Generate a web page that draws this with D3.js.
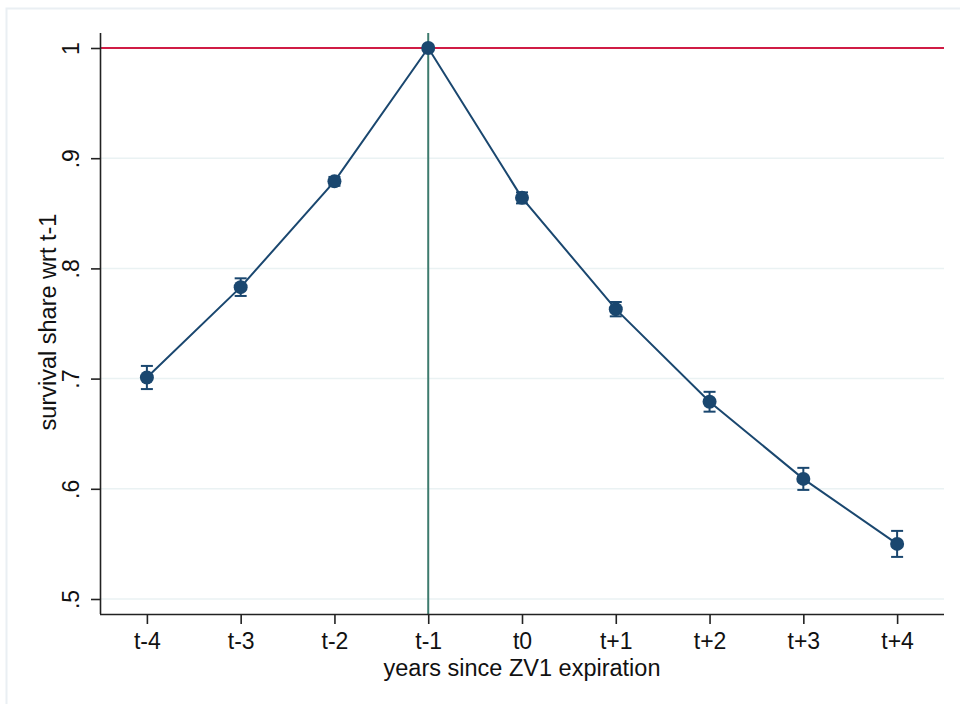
<!DOCTYPE html>
<html>
<head>
<meta charset="utf-8">
<script src="https://cdn.jsdelivr.net/npm/d3@7"></script>
<style>
  body { margin: 0; background: #fff; }
  svg text { font-family: "Liberation Sans", Arial, sans-serif; fill: #111; }
</style>
</head>
<body>
<svg id="chart" width="960" height="704"></svg>
<script>
// data
var periods = ["t-4", "t-3", "t-2", "t-1", "t0", "t+1", "t+2", "t+3", "t+4"];
var offsets = [-4, -3, -2, -1, 0, 1, 2, 3, 4];
var share = [0.701, 0.783, 0.879, 1.000, 0.864, 0.763, 0.679, 0.609, 0.550];
var ciHalf = [0.0105, 0.008, 0.004, 0, 0.005, 0.0065, 0.009, 0.010, 0.0118];
var yTicks = [0.5, 0.6, 0.7, 0.8, 0.9, 1];
var yTickLabels = [".5", ".6", ".7", ".8", ".9", "1"];

var svg = d3.select("#chart");
var pLeft = 100, pRight = 944, pTop = 33, pBottom = 614;

// scales
var x = d3.scaleLinear().domain([-4.5, 4.5]).range([pLeft, pRight]);
var y = d3.scaleLinear().domain([0.5, 1]).range([599, 48]);

// outer frame
svg.append("rect")
   .attr("x", 6.5).attr("y", 8.5)
   .attr("width", 960).attr("height", 700)
   .attr("fill", "none")
   .attr("stroke", "#eaeff3")
   .attr("stroke-width", 2);

// gridlines
svg.selectAll(".grid")
   .data(yTicks)
   .enter()
   .append("line")
   .attr("class", "grid")
   .attr("x1", pLeft).attr("x2", pRight)
   .attr("y1", function(d) { return y(d); })
   .attr("y2", function(d) { return y(d); })
   .attr("stroke", "#eaf2f3")
   .attr("stroke-width", 1.5);

// reference lines
svg.append("line")
   .attr("x1", pLeft).attr("x2", pRight)
   .attr("y1", y(1)).attr("y2", y(1))
   .attr("stroke", "#d01c45")
   .attr("stroke-width", 2);
svg.append("line")
   .attr("x1", x(-1)).attr("x2", x(-1))
   .attr("y1", pTop).attr("y2", pBottom)
   .attr("stroke", "#3e7b6e")
   .attr("stroke-width", 2);

// y axis
var yAxis = svg.append("g")
   .attr("transform", "translate(" + pLeft + ",0)")
   .call(d3.axisLeft(y).tickValues(yTicks)
           .tickFormat(function(d, i) { return yTickLabels[i]; })
           .tickSize(9).tickPadding(0).tickSizeOuter(0));
yAxis.select(".domain").attr("d", "M0.5," + pTop + "V" + pBottom).attr("stroke", "#222").attr("stroke-width", 1.6);
yAxis.selectAll(".tick line").attr("stroke", "#222").attr("stroke-width", 1.6);
yAxis.selectAll(".tick text")
   .attr("x", 0).attr("dy", 0)
   .attr("transform", "translate(-21,0) rotate(-90)")
   .attr("text-anchor", "middle")
   .style("font-size", "23px")
   .style("font-family", "Liberation Sans, Arial, sans-serif")
   .attr("fill", "#111");

// x axis
var xAxis = svg.append("g")
   .attr("transform", "translate(0," + pBottom + ")")
   .call(d3.axisBottom(x).tickValues(offsets)
           .tickFormat(function(d, i) { return periods[i]; })
           .tickSize(10).tickPadding(0).tickSizeOuter(0));
xAxis.select(".domain").attr("d", "M" + pLeft + ",0.5H" + pRight).attr("stroke", "#222").attr("stroke-width", 1.6);
xAxis.selectAll(".tick line").attr("stroke", "#222").attr("stroke-width", 1.6);
xAxis.selectAll(".tick text")
   .attr("y", 35).attr("dy", 0)
   .style("font-size", "23px")
   .style("font-family", "Liberation Sans, Arial, sans-serif")
   .attr("fill", "#111");

// axis titles
svg.append("text")
   .attr("x", 522).attr("y", 676)
   .attr("text-anchor", "middle")
   .style("font-size", "23.5px")
   .text("years since ZV1 expiration");
svg.append("text")
   .attr("transform", "translate(56,322) rotate(-90)")
   .attr("text-anchor", "middle")
   .style("font-size", "23.5px")
   .text("survival share wrt t-1");

var pts = offsets.map(function(d, i) { return { t: d, v: share[i], h: ciHalf[i] }; });
var navy = "#1a476f";

// connecting line
svg.append("path")
   .datum(pts)
   .attr("fill", "none")
   .attr("stroke", navy)
   .attr("stroke-width", 2)
   .attr("d", d3.line().x(function(d) { return x(d.t); }).y(function(d) { return y(d.v); }));

// confidence intervals
var ci = svg.selectAll(".ci")
   .data(pts.filter(function(d) { return d.h > 0; }))
   .enter()
   .append("g")
   .attr("class", "ci")
   .attr("stroke", navy)
   .attr("stroke-width", 2);
ci.append("line")
  .attr("x1", function(d) { return x(d.t); }).attr("x2", function(d) { return x(d.t); })
  .attr("y1", function(d) { return y(d.v - d.h); }).attr("y2", function(d) { return y(d.v + d.h); });
ci.append("line")
  .attr("x1", function(d) { return x(d.t) - 6; }).attr("x2", function(d) { return x(d.t) + 6; })
  .attr("y1", function(d) { return y(d.v - d.h); }).attr("y2", function(d) { return y(d.v - d.h); });
ci.append("line")
  .attr("x1", function(d) { return x(d.t) - 6; }).attr("x2", function(d) { return x(d.t) + 6; })
  .attr("y1", function(d) { return y(d.v + d.h); }).attr("y2", function(d) { return y(d.v + d.h); });

// markers
svg.selectAll(".pt")
   .data(pts)
   .enter()
   .append("circle")
   .attr("class", "pt")
   .attr("cx", function(d) { return x(d.t); })
   .attr("cy", function(d) { return y(d.v); })
   .attr("r", 7)
   .attr("fill", navy);
</script>
</body>
</html>
